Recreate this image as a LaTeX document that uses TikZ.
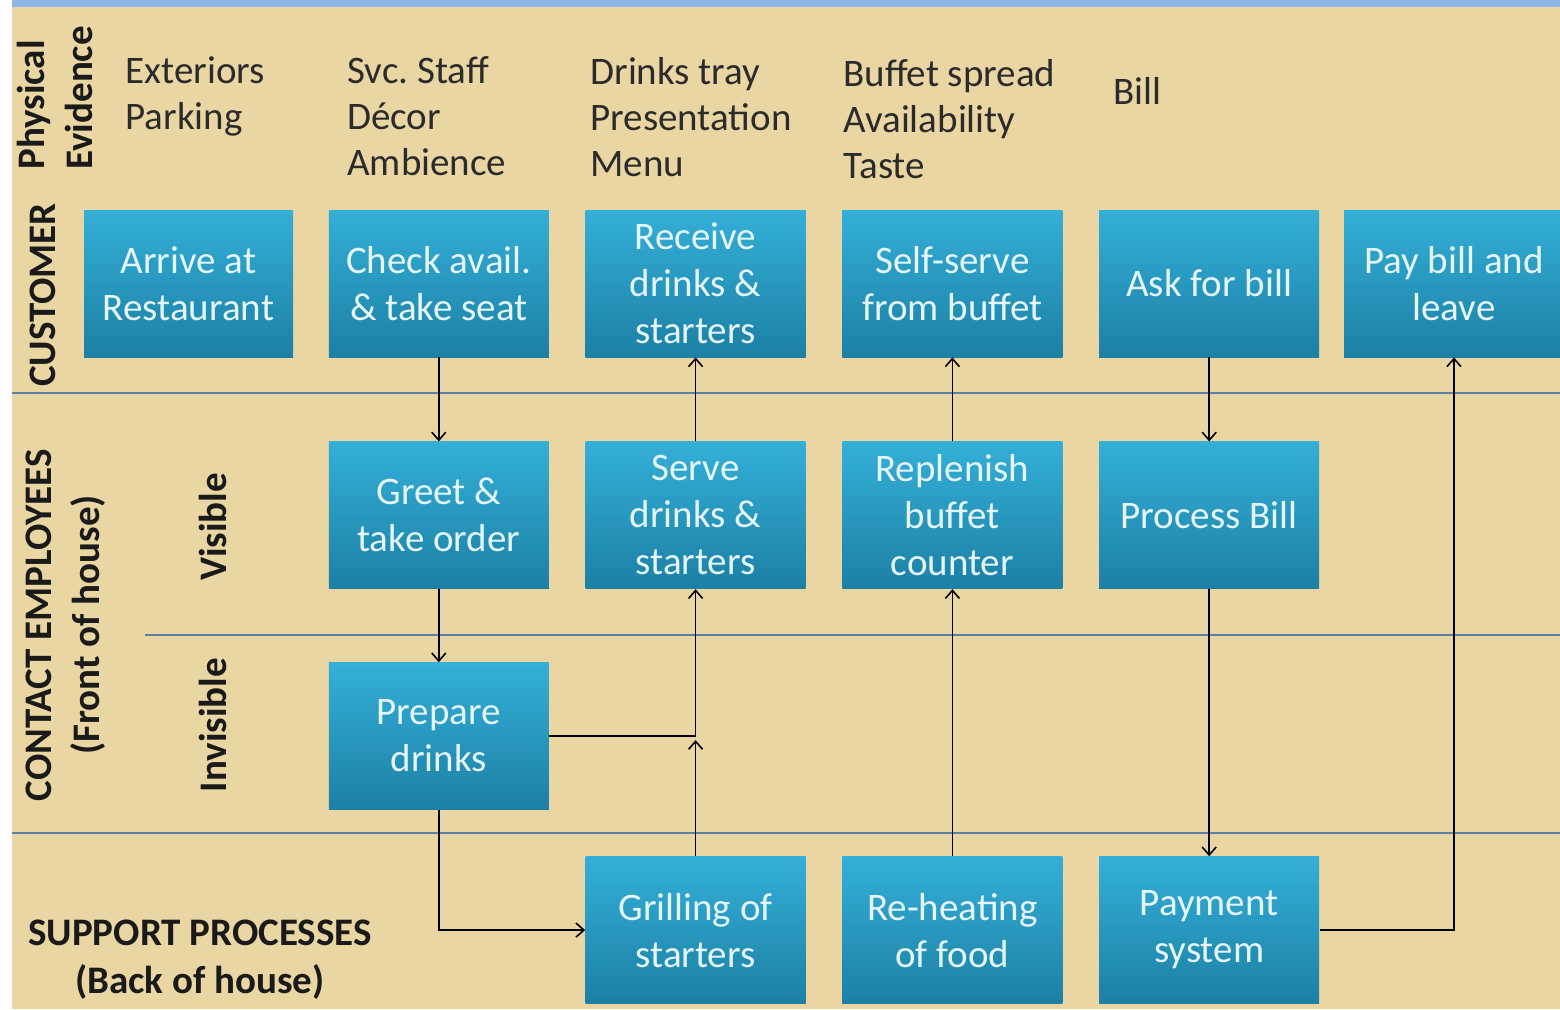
\documentclass[tikz,border=0pt]{standalone}
\usepackage{fontspec}
\setmainfont{Carlito}
\usepackage{xcolor}
\usetikzlibrary{positioning,arrows.meta}

\definecolor{bgtan}{HTML}{E9D6A2}
\definecolor{topblue}{HTML}{8DB4E2}
\definecolor{boxtop}{HTML}{34AFD8}
\definecolor{boxbot}{HTML}{1C80A4}
\definecolor{boxtext}{HTML}{E4F5FB}
\definecolor{sepline}{HTML}{5B7FA6}
\definecolor{evtext}{HTML}{2B2B2B}
\definecolor{lanetext}{HTML}{1A1A1A}

\newcommand\boxfont{\fontsize{19.5}{23.5}\selectfont}
\newcommand\evfont{\fontsize{19.5}{23}\selectfont}
\newcommand\lanefont{\fontsize{19.5}{24}\selectfont\bfseries}

\begin{document}
\begin{tikzpicture}[
    x=0.5pt, y=-0.5pt,
    node distance=42pt and 18pt,
    box/.style={rectangle, minimum width=110pt, minimum height=73.5pt, inner sep=2pt, align=center, top color=boxtop, bottom color=boxbot, text=boxtext, font=\boxfont},
    evid/.style={anchor=base west, align=left, inner sep=0pt, text=evtext, font=\evfont},
    lane/.style={align=center, inner sep=0pt, text=lanetext, font=\lanefont},
    sep/.style={sepline, line width=1pt},
    arrow/.style={-{Straight Barb[length=4pt,width=7pt]}, line width=0.8pt}
]
    \useasboundingbox (0,0) rectangle (1560,1009);
    \fill[white] (0,0) rectangle (12,1009);
    \fill[bgtan] (12,7) rectangle (1560,1009);
    \fill[topblue] (12,0) rectangle (1560,7);

    % swim lane lines
    \draw[sep] (12,393) -- (1560,393);
    \draw[sep] (145,635) -- (1560,635);
    \draw[sep] (12,833) -- (1560,833);

    % lane labels
    \node[lane, rotate=90, align=left, anchor=west] (physical) at (55,170) {Physical\\Evidence};
    \node[lane, rotate=90] (customer) at (43,295) {CUSTOMER};
    \node[lane, rotate=90] (contact) at (66,625) {CONTACT EMPLOYEES\\(Front of house)};
    \node[lane, rotate=90] (visible) at (213,527) {Visible};
    \node[lane, rotate=90] (invisible) at (213,725) {Invisible};
    \node[lane] (support) at (200,960) {SUPPORT PROCESSES\\(Back of house)};

    % physical evidence (base = last line)
    \node[evid] (ev1) at (125,129) {Exteriors\\Parking};
    \node[evid] (ev2) at (347,175) {Svc.\ Staff\\Décor\\Ambience};
    \node[evid] (ev3) at (590,176) {Drinks tray\\Presentation\\Menu};
    \node[evid] (ev4) at (843,178) {Buffet spread\\Availability\\Taste};
    \node[evid] (ev5) at (1113,104) {Bill};

    % customer actions
    \node[box, minimum width=104.5pt] (arrive) at (188.5,283.5) {Arrive at\\Restaurant};
    \node[box, right=17.5pt of arrive] (check) {Check avail.\\\& take seat};
    \node[box, right=of check] (receive) {Receive\\drinks \&\\starters};
    \node[box, right=of receive] (selfserve) {Self-serve\\from buffet};
    \node[box, right=of selfserve] (askbill) {Ask for bill};
    \node[box, right=12pt of askbill] (paybill) {Pay bill and\\leave};

    % front of house
    \node[box, below=of check] (greet) {Greet \&\\take order};
    \node[box, below=of receive] (serve) {Serve\\drinks \&\\starters};
    \node[box, below=of selfserve] (replenish) {Replenish\\buffet\\counter};
    \node[box, below=of askbill] (process) {Process Bill};
    \node[box, below=36.5pt of greet] (prepare) {Prepare\\drinks};

    % back of house
    \node[box, below=133.5pt of serve] (grill) {Grilling of\\starters};
    \node[box, right=of grill] (reheat) {Re-heating\\of food};
    \node[box, right=of reheat] (payment) {Payment\\system};

    \draw[arrow] (check) -- (greet);
    \draw[arrow] (greet) -- (prepare);
    \draw[arrow] (serve) -- (receive);
    \draw[arrow] (replenish) -- (selfserve);
    \draw[arrow] (askbill) -- (process);
    \draw[arrow] (prepare.east) -| (serve.south);
    \draw[arrow, shorten >=2pt] (grill) -- (grill.north |- prepare.east);
    \draw[arrow] (prepare.south) |- (grill.west);
    \draw[arrow] (reheat) -- (replenish);
    \draw[arrow] (process) -- (payment);
    \draw[arrow] (payment.east) -| (paybill.south);
\end{tikzpicture}
\end{document}
